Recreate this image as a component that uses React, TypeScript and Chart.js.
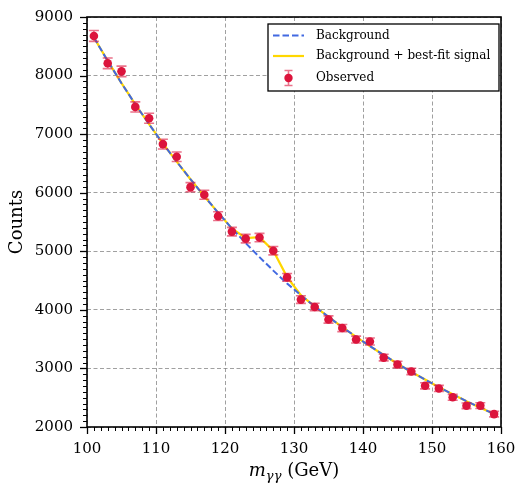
import React, { useEffect, useRef } from "react";
import { Chart, registerables } from "chart.js";

Chart.register(...registerables);

// ---- data ----
const massBins = [101, 103, 105, 107, 109, 111, 113, 115, 117, 119, 121, 123, 125, 127, 129, 131, 133, 135, 137, 139, 141, 143, 145, 147, 149, 151, 153, 155, 157, 159];
const observedCounts = [8676, 8210, 8072, 7465, 7272, 6830, 6615, 6095, 5965, 5600, 5336, 5216, 5234, 5010, 4555, 4175, 4050, 3835, 3690, 3493, 3460, 3185, 3067, 2948, 2703, 2658, 2507, 2362, 2365, 2220];
const observedErrors = [93, 91, 90, 86, 85, 83, 81, 78, 77, 75, 73, 72, 72, 71, 67, 65, 64, 62, 61, 59, 59, 56, 55, 54, 52, 52, 50, 49, 49, 47];
const backgroundFit = [8650, 8250, 7870, 7510, 7170, 6840, 6530, 6230, 5940, 5660, 5390, 5140, 4900, 4670, 4450, 4250, 4060, 3880, 3705, 3540, 3380, 3230, 3080, 2940, 2810, 2680, 2560, 2440, 2330, 2220];
const signalPlusBackground = [8650, 8250, 7870, 7510, 7170, 6840, 6530, 6230, 5940, 5660, 5390, 5225, 5240, 5010, 4560, 4250, 4060, 3880, 3705, 3540, 3380, 3230, 3080, 2940, 2810, 2680, 2560, 2440, 2330, 2220];
const xRange = [100, 160];
const yRange = [2000, 9000];
const xMajorStep = 10;
const xMinorStep = 1;
const yMajorStep = 1000;
const yMinorStep = 100;
const legendLabels = ["Background", "Background + best-fit signal", "Observed"];
const yTitle = "Counts";

const SERIF = "'DejaVu Serif'";
const RED = "#DC143C";
const RED_ERR = "rgba(220,20,60,0.6)";
const BLUE = "#4169E1";
const GOLD = "#FFD700";
const BG_DASH = [6.5, 3];

const errorBarPlugin = {
  id: "errorBars",
  beforeDatasetDraw(chart: any, args: any) {
    if (args.index !== 0) return;
    const { ctx, scales } = chart;
    const x = scales.x, y = scales.y;
    ctx.save();
    ctx.strokeStyle = RED_ERR;
    ctx.lineWidth = 1.6;
    massBins.forEach((m, i) => {
      const px = x.getPixelForValue(m);
      const yt = y.getPixelForValue(observedCounts[i] + observedErrors[i]);
      const yb = y.getPixelForValue(observedCounts[i] - observedErrors[i]);
      ctx.beginPath();
      ctx.moveTo(px, yt); ctx.lineTo(px, yb);
      ctx.moveTo(px - 5, yt); ctx.lineTo(px + 5, yt);
      ctx.moveTo(px - 5, yb); ctx.lineTo(px + 5, yb);
      ctx.stroke();
    });
    ctx.restore();
  },
};

const decorPlugin = {
  id: "decor",
  afterDraw(chart: any) {
    const { ctx, chartArea: a, scales } = chart;
    const x = scales.x, y = scales.y;
    ctx.save();
    // ticks (outward)
    ctx.strokeStyle = "#000";
    for (let v = xRange[0]; v <= xRange[1] + 1e-9; v += xMinorStep) {
      const major = Math.abs(v / xMajorStep - Math.round(v / xMajorStep)) < 1e-6;
      const px = Math.round(x.getPixelForValue(v)) + 0.5;
      ctx.lineWidth = major ? 1.3 : 1;
      ctx.beginPath();
      ctx.moveTo(px, a.bottom);
      ctx.lineTo(px, a.bottom + (major ? 7 : 4));
      ctx.stroke();
    }
    for (let v = yRange[0]; v <= yRange[1] + 1e-9; v += yMinorStep) {
      const major = Math.abs(v / yMajorStep - Math.round(v / yMajorStep)) < 1e-6;
      const py = Math.round(y.getPixelForValue(v)) + 0.5;
      ctx.lineWidth = major ? 1.3 : 1;
      ctx.beginPath();
      ctx.moveTo(a.left, py);
      ctx.lineTo(a.left - (major ? 7 : 4), py);
      ctx.stroke();
    }
    // frame
    ctx.lineWidth = 1.6;
    ctx.strokeRect(a.left, a.top, a.right - a.left, a.bottom - a.top);

    // y title
    ctx.fillStyle = "#000";
    ctx.save();
    ctx.translate(17, (a.top + a.bottom) / 2);
    ctx.rotate(-Math.PI / 2);
    ctx.font = `18px ${SERIF}`;
    ctx.textAlign = "center";
    ctx.textBaseline = "middle";
    ctx.fillText(yTitle, 0, 0);
    ctx.restore();

    // x title: m_{γγ} (GeV)
    const base = 476;
    const f1 = `italic 18px ${SERIF}`;
    const f2 = `italic 13px ${SERIF}`;
    const f3 = `18px ${SERIF}`;
    ctx.textAlign = "left";
    ctx.textBaseline = "alphabetic";
    ctx.font = f1; const w1 = ctx.measureText("m").width;
    ctx.font = f2; const w2 = ctx.measureText("γγ").width;
    ctx.font = f3; const w3 = ctx.measureText(" (GeV)").width;
    let cx = (a.left + a.right) / 2 - (w1 + w2 + w3) / 2;
    ctx.font = f1; ctx.fillText("m", cx, base); cx += w1;
    ctx.font = f2; ctx.fillText("γγ", cx, base + 4); cx += w2;
    ctx.font = f3; ctx.fillText(" (GeV)", cx, base);

    // legend
    const lx = a.right - 233, ly = a.top + 7, lw = 231, lh = 67;
    ctx.fillStyle = "#fff";
    ctx.fillRect(lx, ly, lw, lh);
    ctx.strokeStyle = "#000";
    ctx.lineWidth = 1.3;
    ctx.strokeRect(lx, ly, lw, lh);
    const rows = [ly + 11.5, ly + 32, ly + 54];
    const sx0 = lx + 5, sx1 = lx + 36, tx = lx + 48;
    // background
    ctx.strokeStyle = BLUE; ctx.lineWidth = 2; ctx.setLineDash(BG_DASH);
    ctx.beginPath(); ctx.moveTo(sx0, rows[0]); ctx.lineTo(sx1, rows[0]); ctx.stroke();
    ctx.setLineDash([]);
    // signal
    ctx.strokeStyle = GOLD; ctx.lineWidth = 2.2;
    ctx.beginPath(); ctx.moveTo(sx0, rows[1]); ctx.lineTo(sx1, rows[1]); ctx.stroke();
    // observed
    const mx = (sx0 + sx1) / 2;
    ctx.strokeStyle = RED_ERR; ctx.lineWidth = 1.6;
    ctx.beginPath();
    ctx.moveTo(mx, rows[2] - 7.5); ctx.lineTo(mx, rows[2] + 7.5);
    ctx.moveTo(mx - 4, rows[2] - 7.5); ctx.lineTo(mx + 4, rows[2] - 7.5);
    ctx.moveTo(mx - 4, rows[2] + 7.5); ctx.lineTo(mx + 4, rows[2] + 7.5);
    ctx.stroke();
    ctx.fillStyle = RED;
    ctx.beginPath(); ctx.arc(mx, rows[2], 4.2, 0, Math.PI * 2); ctx.fill();
    // texts
    ctx.fillStyle = "#000";
    ctx.font = `12px ${SERIF}`;
    ctx.textBaseline = "middle";
    legendLabels.forEach((t, i) => ctx.fillText(t, tx, rows[i]));
    ctx.restore();
  },
};

function zeroPad(s: any) {
  s.paddingLeft = 0;
  s.paddingRight = 0;
  s.paddingTop = 0;
  s.paddingBottom = 0;
}

export default function App() {
  const ref = useRef<HTMLCanvasElement | null>(null);
  useEffect(() => {
    if (!ref.current) return;
    Chart.defaults.font.family = SERIF;
    const chart = new Chart(ref.current, {
      type: "line",
      data: {
        datasets: [
          {
            label: legendLabels[2],
            data: massBins.map((m, i) => ({ x: m, y: observedCounts[i] })),
            showLine: false,
            pointRadius: 4.3,
            pointBackgroundColor: RED,
            pointBorderWidth: 0,
            borderColor: RED,
          },
          {
            label: legendLabels[0],
            data: massBins.map((m, i) => ({ x: m, y: backgroundFit[i] })),
            borderColor: BLUE,
            borderWidth: 2,
            borderDash: BG_DASH,
            pointRadius: 0,
            tension: 0,
            fill: false,
          },
          {
            label: legendLabels[1],
            data: massBins.map((m, i) => ({ x: m, y: signalPlusBackground[i] })),
            borderColor: GOLD,
            borderWidth: 2.2,
            pointRadius: 0,
            tension: 0,
            fill: false,
          },
        ],
      },
      options: {
        responsive: false,
        animation: false,
        devicePixelRatio: 1,
        layout: { padding: { left: 0, right: 16, top: 17, bottom: 0 } },
        plugins: { legend: { display: false }, tooltip: { enabled: false } },
        scales: {
          x: {
            type: "linear",
            min: xRange[0],
            max: xRange[1],
            afterFit: (s: any) => { s.height = 56; zeroPad(s); },
            ticks: { stepSize: xMajorStep, color: "#000", padding: 13, font: { family: SERIF, size: 15 }, maxRotation: 0, callback: (v: any) => String(v) },
            grid: { color: "rgba(128,128,128,0.75)", lineWidth: 1, drawTicks: false },
            border: { display: false, dash: [4, 2.5] },
          },
          y: {
            type: "linear",
            min: yRange[0],
            max: yRange[1],
            afterFit: (s: any) => { s.width = 87; zeroPad(s); },
            ticks: { stepSize: yMajorStep, color: "#000", padding: 14, font: { family: SERIF, size: 15 }, callback: (v: any) => String(v) },
            grid: { color: "rgba(128,128,128,0.75)", lineWidth: 1, drawTicks: false },
            border: { display: false, dash: [4, 2.5] },
          },
        },
      },
      plugins: [errorBarPlugin, decorPlugin],
    } as any);
    return () => chart.destroy();
  }, []);
  return (
    <div style={{ position: "fixed", left: 0, top: 0, width: 517, height: 483, background: "#fff" }}>
      <canvas ref={ref} width={517} height={483} style={{ display: "block" }} />
    </div>
  );
}
